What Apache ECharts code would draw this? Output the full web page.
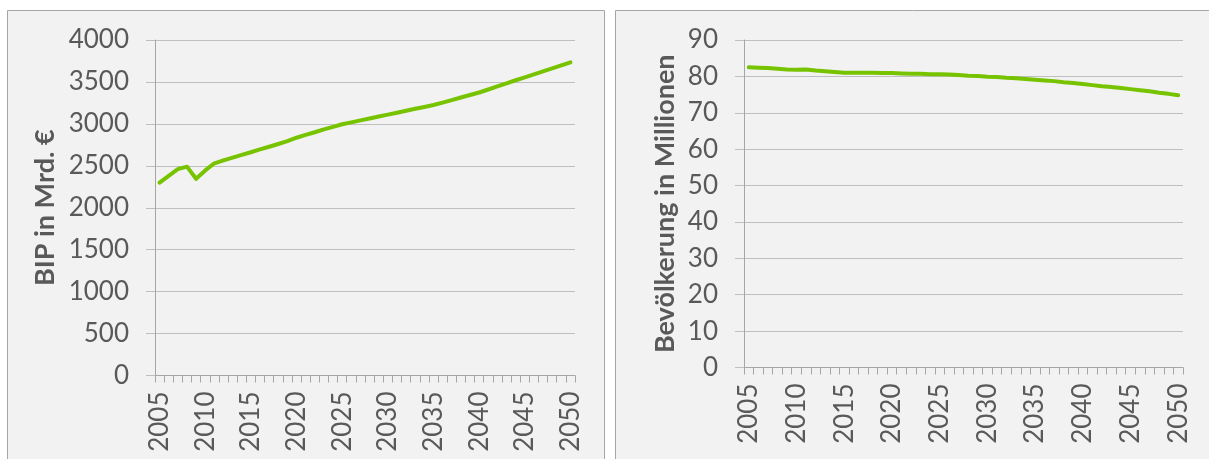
<!DOCTYPE html>
<html>
<head>
<meta charset="utf-8">
<script src="https://cdn.jsdelivr.net/npm/echarts@6/dist/echarts.min.js"></script>
<style>
  html, body { margin: 0; padding: 0; background: #ffffff; }
  #chart { width: 1209px; height: 459px; }
</style>
</head>
<body>
<div id="chart"></div>
<script>
// Jahre 2005–2050
const years = [];
for (let y = 2005; y <= 2050; y++) years.push(String(y));

// Bruttoinlandsprodukt in Mrd. €
const bip = [
  2300, 2380, 2460, 2490, 2345, 2445, 2530, 2565, 2598, 2630,
  2662, 2695, 2727, 2760, 2795, 2835, 2868, 2900, 2935, 2965,
  2995, 3018, 3042, 3065, 3088, 3110, 3133, 3156, 3180, 3202,
  3225, 3254, 3284, 3314, 3344, 3374, 3410, 3446, 3483, 3520,
  3555, 3590, 3626, 3662, 3698, 3734
];

// Bevölkerung in Millionen
const bevoelkerung = [
  82.5, 82.4, 82.3, 82.1, 81.9, 81.8, 81.9, 81.6, 81.4, 81.2,
  81.0, 81.0, 81.0, 81.0, 80.9, 80.9, 80.8, 80.7, 80.7, 80.6,
  80.6, 80.5, 80.4, 80.2, 80.1, 79.9, 79.8, 79.6, 79.5, 79.3,
  79.1, 78.9, 78.7, 78.4, 78.2, 77.9, 77.6, 77.3, 77.1, 76.8,
  76.5, 76.2, 75.9, 75.5, 75.2, 74.8
];

const titleLeft = 'BIP in Mrd. €';
const titleRight = 'Bevölkerung in Millionen';

const FONT = 'Lato, "Open Sans", sans-serif';
const TEXT = '#595959';
const GRID = '#bfbfbf';
const AXIS = '#a6a6a6';
const LINE = '#77c300';

const chart = echarts.init(document.getElementById('chart'), null, { renderer: 'canvas' });

function xAxis(gridIndex) {
  return {
    type: 'category',
    gridIndex,
    data: years,
    boundaryGap: true,
    axisLine: { show: true, lineStyle: { color: AXIS, width: 1 } },
    axisTick: { show: true, interval: 0, length: 7, lineStyle: { color: AXIS } },
    axisLabel: {
      interval: (i) => i % 5 === 0,
      rotate: 90,
      margin: 16,
      color: TEXT,
      fontFamily: FONT,
      fontSize: 26
    },
    splitLine: { show: false }
  };
}

function yAxis(gridIndex, max, interval, name, gap) {
  return {
    type: 'value',
    gridIndex,
    min: 0,
    max,
    interval,
    name,
    nameLocation: 'middle',
    nameRotate: 90,
    nameGap: gap,
    nameTextStyle: { color: TEXT, fontFamily: FONT, fontSize: 27, fontWeight: 'bold' },
    axisLine: { show: true, lineStyle: { color: AXIS, width: 1 } },
    axisTick: { show: true, inside: false, length: 9, lineStyle: { color: GRID } },
    axisLabel: {
      color: TEXT, fontFamily: FONT, fontSize: 26, margin: 26,
      formatter: (v) => String(v)
    },
    splitLine: { show: true, lineStyle: { color: GRID, width: 1 } }
  };
}

chart.setOption({
  animation: false,
  backgroundColor: '#ffffff',
  graphic: [
    { type: 'rect', z: -10, shape: { x: 7.5, y: 10.5, width: 597, height: 470 },
      style: { fill: '#f2f2f2', stroke: '#a6a6a6', lineWidth: 1 } },
    { type: 'rect', z: -10, shape: { x: 615.5, y: 10.5, width: 620, height: 470 },
      style: { fill: '#f2f2f2', stroke: '#a6a6a6', lineWidth: 1 } }
  ],
  grid: [
    { left: 155, top: 40, width: 420, height: 335.5 },
    { left: 744, top: 40, width: 439, height: 327.5 }
  ],
  xAxis: [xAxis(0), xAxis(1)],
  yAxis: [yAxis(0, 4000, 500, titleLeft, 96), yAxis(1, 90, 10, titleRight, 65)],
  series: [
    {
      type: 'line', xAxisIndex: 0, yAxisIndex: 0, data: bip,
      showSymbol: false, symbol: 'none',
      lineStyle: { color: LINE, width: 4, cap: 'round', join: 'round' }
    },
    {
      type: 'line', xAxisIndex: 1, yAxisIndex: 1, data: bevoelkerung,
      showSymbol: false, symbol: 'none',
      lineStyle: { color: LINE, width: 4, cap: 'round', join: 'round' }
    }
  ]
});
</script>
</body>
</html>
